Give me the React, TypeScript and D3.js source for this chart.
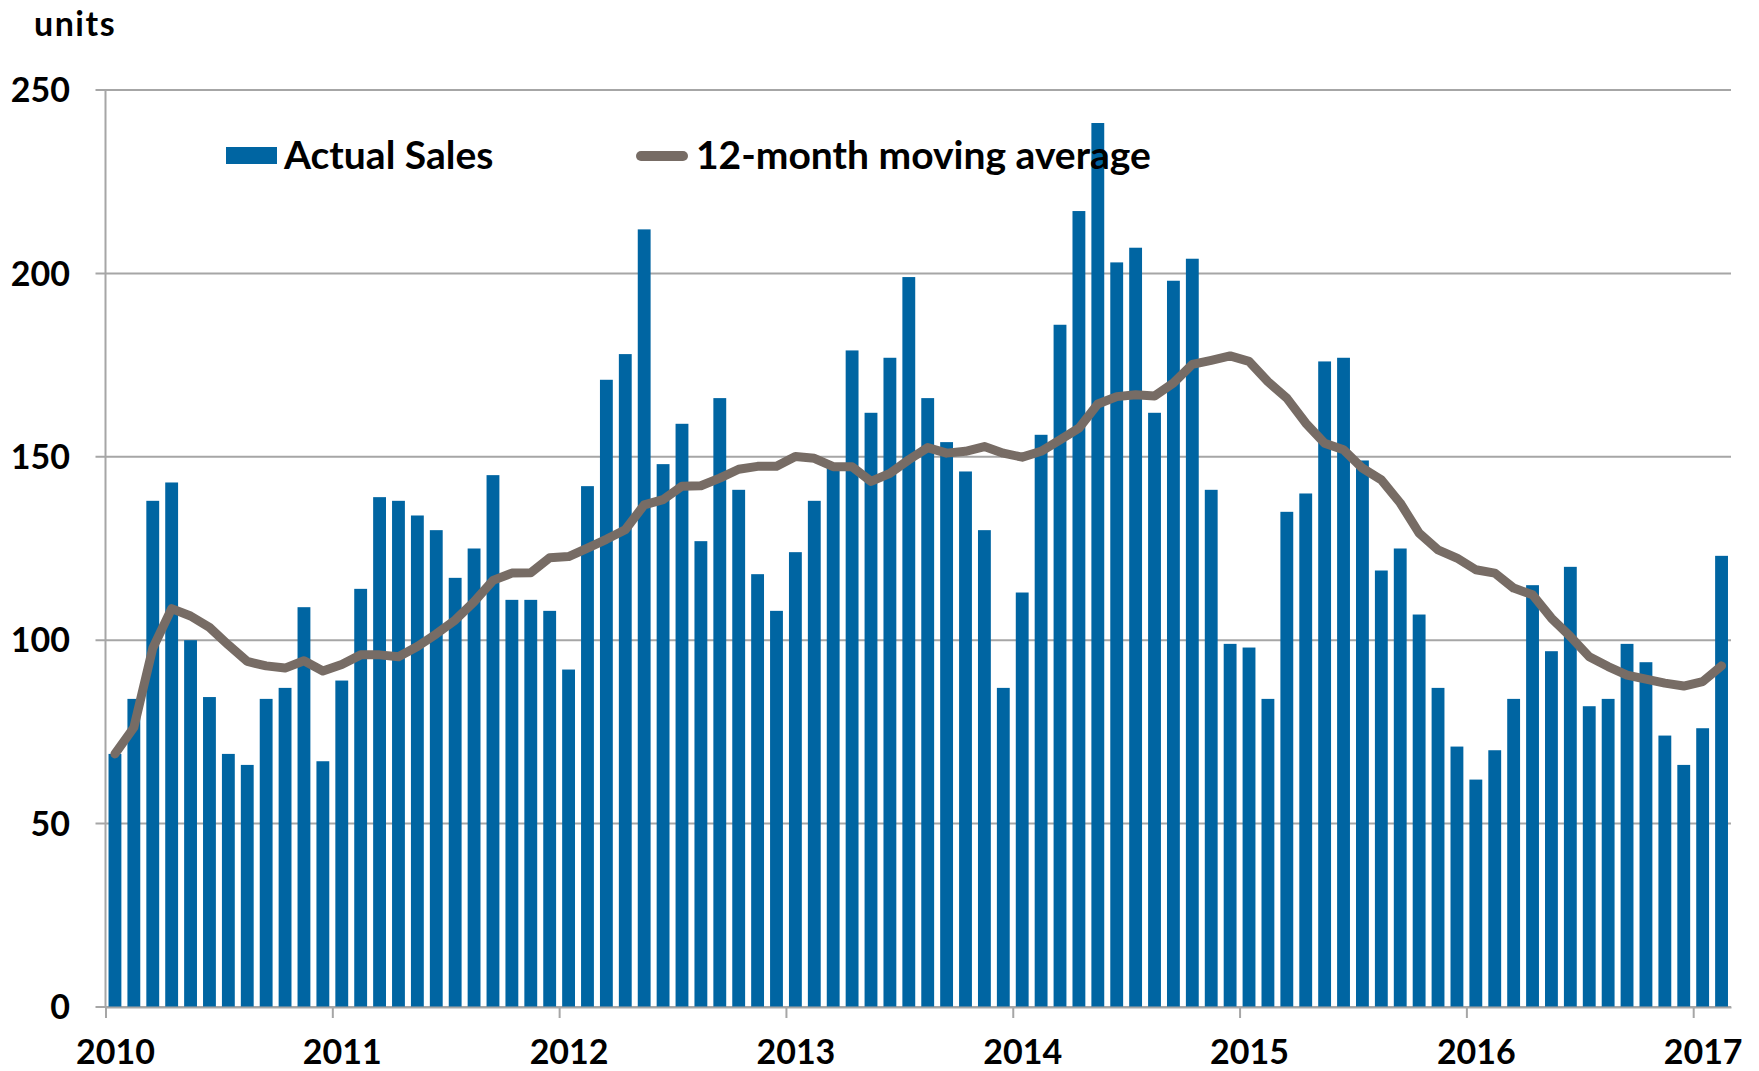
import React, { useEffect, useRef } from 'react';
import * as d3 from 'd3';

// Monthly sales, Jan 2010 .. Feb 2017
const actualSales = [
  69, 84, 138, 143, 100, 84.5, 69, 66, 84, 87, 109, 67,
  89, 114, 139, 138, 134, 130, 117, 125, 145, 111, 111, 108,
  92, 142, 171, 178, 212, 148, 159, 127, 166, 141, 118, 108,
  124, 138, 147, 179, 162, 177, 199, 166, 154, 146, 130, 87,
  113, 156, 186, 217, 241, 203, 207, 162, 198, 204, 141, 99,
  98, 84, 135, 140, 176, 177, 149, 119, 125, 107, 87, 71,
  62, 70, 84, 115, 97, 120, 82, 84, 99, 94, 74, 66,
  76, 123,
];

const movingAverage = [
  69, 76.2, 97.8, 108.6, 106.6, 103.5, 98.7, 94.2, 93, 92.4, 94.4, 91.6,
  93.4, 96, 96, 95.5, 98.3, 101.7, 105.5, 110.5, 116.3, 118.3, 118.4, 122.5,
  122.8, 125.1, 127.5, 130.1, 136.9, 138.3, 142, 142.1, 144.2, 146.6, 147.4, 147.4,
  150.1, 149.6, 147.3, 147.3, 143.3, 145.5, 149.2, 152.5, 151, 151.5, 152.8, 151,
  149.9, 151.5, 154.6, 157.8, 164.4, 166.4, 166.9, 166.6, 170.1, 175.2, 176.3, 177.5,
  176, 170.5, 166, 159.2, 153.7, 151.9, 146.9, 143.7, 137.4, 129.2, 124.6, 122.4,
  119.2, 118.3, 114.2, 112.4, 106, 101, 95.5, 92.8, 90.5, 89.4, 88.3, 87.5,
  88.7, 93,
];

const yearLabels = ['2010', '2011', '2012', '2013', '2014', '2015', '2016', '2017'];
const yTicks = [0, 50, 100, 150, 200, 250];
const seriesNames = ['Actual Sales', '12-month moving average'];

const months = actualSales.map((_, i) => `${2010 + Math.floor(i / 12)}-${String((i % 12) + 1).padStart(2, '0')}`);

const W = 1759;
const H = 1071;
const BAR = '#0065a2';
const LINE = '#776c65';
const GRID = '#a6a6a6';
const FONT = 'Lato, "Open Sans", sans-serif';

export default function App() {
  const svgRef = useRef<SVGSVGElement>(null);

  useEffect(() => {
    if (!svgRef.current) return;
    const svg = d3.select(svgRef.current);
    svg.selectAll('*').remove();

    const left = 105.5;
    const right = 1731;
    const top = 90;
    const bottom = 1007;

    const x = d3.scaleBand<string>()
      .domain(months)
      .range([left, right])
      .paddingInner(0.32)
      .paddingOuter(0.16);

    // continuous month scale for year ticks
    const xm = d3.scaleLinear().domain([0, months.length]).range([left, right]);

    const y = d3.scaleLinear().domain([0, 250]).range([bottom, top]);

    // gridlines
    svg.append('g')
      .selectAll('line')
      .data(yTicks)
      .join('line')
      .attr('x1', left - 10)
      .attr('x2', right)
      .attr('y1', d => y(d))
      .attr('y2', d => y(d))
      .attr('stroke', GRID)
      .attr('stroke-width', 2);

    // y axis line
    svg.append('line')
      .attr('x1', left).attr('x2', left)
      .attr('y1', top).attr('y2', bottom)
      .attr('stroke', GRID)
      .attr('stroke-width', 2);

    // y tick labels
    svg.append('g')
      .selectAll('text')
      .data(yTicks)
      .join('text')
      .attr('x', 70)
      .attr('y', d => y(d))
      .attr('dy', '0.36em')
      .attr('text-anchor', 'end')
      .attr('font-family', FONT)
      .attr('font-weight', 'bold')
      .attr('font-size', 34)
      .attr('fill', '#000')
      .text(d => d);

    // bars
    svg.append('g')
      .selectAll('rect')
      .data(actualSales)
      .join('rect')
      .attr('x', (_, i) => x(months[i])!)
      .attr('y', d => y(d))
      .attr('width', x.bandwidth())
      .attr('height', d => y(0) - y(d))
      .attr('fill', BAR);

    // x axis
    const xAxis = svg.append('g')
      .attr('transform', `translate(0,${bottom})`)
      .call(
        d3.axisBottom(xm)
          .tickValues(yearLabels.map((_, i) => i * 12))
          .tickSize(11)
          .tickSizeOuter(0)
          .tickFormat((_, i) => yearLabels[i])
      );
    xAxis.select('.domain').attr('stroke', GRID).attr('stroke-width', 2);
    xAxis.selectAll('.tick line').attr('stroke', GRID).attr('stroke-width', 2);
    xAxis.selectAll('.tick text')
      .attr('x', x.step() / 2)
      .attr('y', 45)
      .attr('dy', '0.36em')
      .attr('font-family', FONT)
      .attr('font-weight', 'bold')
      .attr('font-size', 34)
      .attr('fill', '#000');

    // moving average line
    const line = d3.line<number>()
      .x((_, i) => x(months[i])! + x.bandwidth() / 2)
      .y(d => y(d));

    svg.append('path')
      .datum(movingAverage)
      .attr('d', line)
      .attr('fill', 'none')
      .attr('stroke', LINE)
      .attr('stroke-width', 9)
      .attr('stroke-linejoin', 'round')
      .attr('stroke-linecap', 'round');

    // units label
    svg.append('text')
      .attr('x', 34)
      .attr('y', 36)
      .attr('font-family', FONT)
      .attr('font-weight', 'bold')
      .attr('font-size', 34)
      .attr('letter-spacing', 1.5)
      .text('units');

    // legend
    const legend = svg.append('g');
    legend.append('rect')
      .attr('x', 226)
      .attr('y', 147)
      .attr('width', 51)
      .attr('height', 17)
      .attr('fill', BAR);
    legend.append('text')
      .attr('x', 284)
      .attr('y', 169)
      .attr('font-family', FONT)
      .attr('font-weight', 'bold')
      .attr('font-size', 39)
      .text(seriesNames[0]);

    legend.append('line')
      .attr('x1', 641)
      .attr('x2', 683)
      .attr('y1', 156)
      .attr('y2', 156)
      .attr('stroke', LINE)
      .attr('stroke-width', 10)
      .attr('stroke-linecap', 'round');
    legend.append('text')
      .attr('x', 696)
      .attr('y', 169)
      .attr('font-family', FONT)
      .attr('font-weight', 'bold')
      .attr('font-size', 39)
      .text(seriesNames[1]);
  }, []);

  return (
    <div style={{ position: 'absolute', left: 0, top: 0, width: W, height: H, background: '#fff' }}>
      <svg ref={svgRef} width={W} height={H}></svg>
    </div>
  );
}
